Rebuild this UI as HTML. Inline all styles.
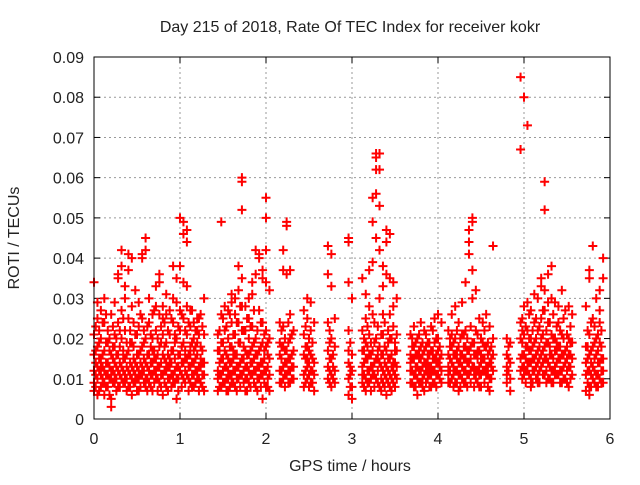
<!DOCTYPE html>
<html><head><meta charset="utf-8"><style>
body{margin:0;background:#fff;}
svg text{font-family:"Liberation Sans",sans-serif;font-size:16px;fill:#222;}
</style></head><body>
<svg id="chart" width="640" height="480">
<text x="350" y="32" text-anchor="middle">Day 215 of 2018, Rate Of TEC Index for receiver kokr</text>
<text x="350" y="471" text-anchor="middle">GPS time / hours</text>
<text transform="translate(19,238) rotate(-90)" text-anchor="middle">ROTI / TECUs</text>
<g id="grid"></g><g id="axes"></g><g id="pts"></g>
<rect x="94" y="57" width="516" height="362" fill="none" stroke="#000" stroke-width="1"/>
</svg>
<script>
const xTicks=[0,1,2,3,4,5,6];
const yTicks=[0,0.01,0.02,0.03,0.04,0.05,0.06,0.07,0.08,0.09];
const yTickLabels=["0","0.01","0.02","0.03","0.04","0.05","0.06","0.07","0.08","0.09"];
const colTimes=[0,0.04,0.08,0.12,0.16,0.20,0.24,0.28,0.32,0.36,0.40,0.44,0.48,0.52,0.56,0.60,0.64,0.68,0.72,0.76,0.80,0.84,0.88,0.92,0.96,1.00,1.04,1.08,1.12,1.16,1.20,1.24,1.28,
1.44,1.48,1.52,1.56,1.60,1.64,1.68,1.72,1.76,1.80,1.84,1.88,1.92,1.96,2.00,2.04,
2.16,2.20,2.24,2.28,2.32,2.44,2.48,2.52,2.56,2.72,2.76,2.80,2.96,3.00,
3.12,3.16,3.20,3.24,3.28,3.32,3.36,3.40,3.44,3.48,3.52,
3.68,3.72,3.76,3.80,3.84,3.88,3.92,3.96,4.00,4.04,
4.12,4.16,4.20,4.24,4.28,4.32,4.36,4.40,4.44,4.48,4.52,4.56,4.60,4.64,4.80,4.84,
4.96,5.00,5.04,5.08,5.12,5.16,5.20,5.24,5.28,5.32,5.36,5.40,5.44,5.48,5.52,5.56,
5.72,5.76,5.80,5.84,5.88,5.92];
const colRoti=[
[.034,.012,.009,.016,.021,.007],[.013,.010,.018,.025,.006,.029],[.011,.015,.008,.020,.027,.013],[.009,.012,.017,.024,.030,.006],
[.014,.011,.019,.008,.022],[.005,.003,.012,.016,.010,.026],[.011,.014,.009,.021,.018,.029],[.036,.035,.012,.008,.016,.024],
[.042,.038,.010,.013,.020,.027],[.033,.011,.015,.009,.022,.030],[.041,.037,.012,.017,.008,.025],[.040,.013,.010,.019,.028,.006],
[.032,.011,.014,.009,.021],[.012,.016,.010,.023,.029,.007],[.041,.040,.013,.018,.011,.025],[.042,.045,.010,.014,.020,.008],
[.030,.012,.016,.009,.024],[.026,.011,.014,.020,.017,.007],[.033,.028,.012,.015,.010,.022],[.034,.036,.013,.009,.018,.026],
[.028,.025,.011,.016,.006,.021],[.026,.031,.012,.014,.019,.008],[.027,.010,.015,.021,.013],[.038,.030,.011,.017,.024,.009],
[.035,.029,.013,.010,.020,.005],[.038,.050,.016,.012,.022,.027],[.034,.049,.046,.014,.010,.019,.025],[.044,.047,.033,.015,.011,.021,.028],
[.027,.018,.013,.009,.023,.016],[.024,.014,.011,.020,.017,.008],[.025,.012,.016,.022,.010,.019],[.026,.013,.018,.009,.015],[.030,.011,.021,.014,.007],
[.017,.012,.010,.021,.007],[.026,.015,.011,.019,.008,.049],[.022,.013,.017,.009,.028],[.027,.012,.015,.020,.010,.007],
[.031,.029,.014,.018,.011,.024,.009],[.030,.026,.016,.012,.021,.008],[.038,.032,.013,.019,.010,.024],[.060,.059,.052,.035,.015,.022,.011,.028],
[.028,.013,.017,.010,.022,.007],[.030,.012,.016,.020,.009,.025],[.034,.031,.014,.011,.018,.023],[.042,.036,.016,.012,.020,.008],
[.041,.040,.027,.013,.017,.010],[.035,.037,.014,.019,.011,.024,.005],[.055,.050,.042,.034,.012,.018,.008,.022],[.032,.015,.011,.020,.007],
[.024,.012,.016,.009,.019],[.042,.037,.013,.018,.010,.023],[.049,.048,.036,.011,.017,.014],[.037,.026,.012,.009,.020,.015],[.022,.013,.010,.017],
[.027,.011,.016,.008,.021],[.030,.025,.013,.010,.018,.015],[.029,.012,.016,.009,.022],[.024,.011,.014,.007],
[.043,.036,.013,.010,.017,.024],[.041,.033,.011,.015,.008,.020],[.025,.012,.009,.018],[.045,.044,.034,.014,.010,.017,.006,.022],[.030,.012,.008,.016,.005],
[.035,.013,.009,.017,.022,.011],[.031,.015,.010,.019,.025,.007],[.037,.028,.012,.016,.021,.009],[.055,.049,.039,.026,.013,.011,.017],
[.066,.065,.062,.056,.045,.020,.010,.015],[.066,.062,.053,.042,.030,.014,.008,.018],[.038,.033,.026,.012,.016,.009,.021],[.047,.044,.036,.013,.010,.017,.006],
[.046,.035,.026,.011,.008,.015,.020],[.034,.028,.012,.009,.014,.023],[.030,.021,.013,.017,.010],
[.021,.012,.016,.009,.014],[.023,.011,.015,.018,.008],[.020,.013,.010,.016,.006],[.024,.012,.015,.009,.018],[.022,.014,.011,.017,.007],
[.019,.012,.016,.010,.014],[.023,.013,.011,.017,.008],[.025,.015,.012,.019,.009],[.026,.014,.011,.017,.020],[.024,.016,.012,.009],
[.022,.013,.011,.016,.009],[.026,.014,.010,.018,.021],[.028,.012,.016,.009,.020],[.024,.014,.011,.018,.007],[.029,.013,.016,.010,.021],
[.034,.022,.012,.015,.009,.018],[.047,.044,.041,.017,.011,.014],[.050,.049,.037,.030,.013,.019],[.032,.016,.012,.010,.022],[.025,.013,.017,.011,.008],
[.024,.015,.012,.019],[.026,.013,.011,.018],[.023,.014,.010,.017,.007],[.043,.020,.012,.016],[.020,.016,.013,.009,.011],[.019,.014,.010,.007],
[.085,.067,.024,.015,.012,.020],[.080,.028,.016,.011,.021,.013],[.073,.029,.018,.012,.014,.022],[.027,.014,.010,.017,.020,.008],
[.031,.015,.012,.019,.024],[.030,.017,.011,.014,.022,.009],[.035,.033,.016,.013,.020,.025],[.059,.052,.032,.015,.011,.018,.027],
[.036,.029,.014,.019,.010,.024],[.038,.030,.016,.012,.021,.009],[.029,.017,.013,.020,.011],[.028,.015,.011,.018,.024],
[.032,.016,.012,.021,.009],[.027,.014,.010,.017],[.028,.013,.016,.008,.020],[.026,.015,.011,.019],
[.028,.014,.011,.018,.007],[.037,.035,.016,.012,.021,.008,.006],[.043,.025,.013,.010,.018],[.030,.016,.011,.020,.008],[.032,.027,.014,.010,.019,.024],[.040,.035,.015,.012,.009]];
const colTimes2=[0.02,0.06,0.10,0.14,0.18,0.22,0.26,0.30,0.34,0.38,0.42,0.46,0.50,0.54,0.58,0.62,0.66,0.70,0.74,0.78,0.82,0.86,0.90,0.94,0.98,1.02,1.06,1.10,1.14,1.18,1.22,1.26,
1.46,1.50,1.54,1.58,1.62,1.66,1.70,1.74,1.78,1.82,1.86,1.90,1.94,1.98,2.02,
2.18,2.22,2.26,2.30,2.46,2.50,2.54,2.74,2.78,2.98,
3.14,3.18,3.22,3.26,3.30,3.34,3.38,3.42,3.46,3.50,
3.70,3.74,3.78,3.82,3.86,3.90,3.94,3.98,4.02,
4.14,4.18,4.22,4.26,4.30,4.34,4.38,4.42,4.46,4.50,4.54,4.58,4.62,4.82,
4.98,5.02,5.06,5.10,5.14,5.18,5.22,5.26,5.30,5.34,5.38,5.42,5.46,5.50,5.54,
5.74,5.78,5.82,5.86,5.90];
const colRoti2=[
[.008,.011,.014,.017,.023],[.007,.012,.015,.019,.022],[.009,.010,.013,.016,.024],[.008,.011,.014,.019,.026],
[.006,.010,.013,.017,.020],[.009,.012,.015,.018,.023],[.007,.010,.013,.016,.020],[.008,.011,.014,.018,.022],
[.009,.012,.015,.017,.025],[.007,.010,.013,.016,.019],[.008,.011,.014,.019,.022],[.009,.012,.015,.018,.024],
[.007,.010,.013,.016,.021],[.008,.011,.014,.017,.026],[.009,.012,.015,.019,.022],[.007,.010,.013,.016,.023],
[.008,.011,.014,.018,.021],[.009,.012,.015,.017,.027],[.007,.010,.013,.016,.020],[.008,.011,.014,.019,.023],
[.009,.012,.015,.018,.024],[.007,.010,.013,.016,.022],[.008,.011,.014,.017,.025],[.009,.012,.015,.019,.021],
[.007,.010,.013,.016,.023],[.008,.011,.014,.018,.026],[.009,.012,.015,.017,.022],[.007,.010,.013,.016,.024],
[.008,.011,.014,.019,.027],[.009,.012,.015,.018,.022],[.007,.010,.013,.021,.025],[.008,.011,.014,.017,.023],
[.008,.011,.014,.017,.022],[.009,.012,.015,.019,.025],[.007,.010,.013,.016,.023],[.008,.011,.014,.018,.026],
[.009,.012,.015,.017,.021],[.007,.010,.013,.016,.024],[.008,.011,.014,.019,.028],[.009,.012,.015,.018,.022],
[.007,.010,.013,.016,.025],[.008,.011,.014,.017,.023],[.009,.012,.015,.019,.027],[.007,.010,.013,.016,.022],
[.008,.011,.014,.018,.024],[.009,.012,.015,.017,.021],[.008,.010,.013,.016,.019],
[.009,.012,.015,.018,.022],[.008,.011,.014,.017,.020],[.009,.012,.015,.019,.024],[.010,.013,.016,.021],
[.009,.012,.015,.018,.023],[.008,.011,.014,.017,.020],[.009,.012,.015,.019],[.009,.012,.015,.019,.022],[.010,.013,.016],[.008,.011,.013,.019],
[.008,.011,.014,.017,.020],[.009,.012,.015,.018,.023],[.007,.010,.013,.016,.019],[.008,.011,.014,.019,.024],
[.009,.012,.015,.017,.023],[.007,.010,.013,.016,.021],[.008,.011,.014,.018,.024],[.009,.012,.015,.019,.022],
[.007,.010,.013,.016,.020],[.008,.011,.014,.017,.019],
[.009,.012,.015,.018,.020],[.008,.011,.013,.016,.019],[.009,.012,.015,.017,.021],[.008,.010,.013,.016,.019],
[.009,.012,.014,.018,.021],[.008,.011,.013,.016,.019],[.009,.012,.015,.017,.022],[.008,.011,.014,.016,.020],[.010,.013,.015,.018],
[.009,.012,.015,.018,.020],[.008,.011,.013,.016,.019],[.009,.012,.015,.017,.022],[.008,.011,.014,.016,.020],
[.009,.012,.015,.018,.021],[.008,.011,.014,.017,.020],[.009,.012,.015,.018,.023],[.008,.011,.013,.016,.019],
[.009,.012,.015,.017,.021],[.008,.011,.014,.016,.020],[.009,.012,.015,.018,.022],[.008,.011,.013,.016,.019],[.010,.013,.015,.018],
[.012,.015,.018],
[.010,.013,.016,.019,.022,.025],[.009,.012,.015,.018,.023],[.011,.014,.017,.020,.026],[.009,.012,.015,.018,.022],
[.010,.013,.016,.020,.025],[.009,.012,.015,.018,.023],[.011,.014,.017,.021,.027],[.009,.012,.015,.019,.022],
[.010,.013,.016,.018,.024],[.009,.012,.015,.020,.026],[.011,.014,.017,.019,.023],[.009,.012,.015,.018,.022],
[.010,.013,.016,.020,.025],[.009,.012,.015,.018,.021],[.010,.013,.016,.019,.023],
[.009,.012,.015,.018,.022],[.008,.011,.014,.017,.024],[.009,.012,.015,.019,.023],[.008,.011,.014,.017,.021],[.009,.012,.015,.018,.022]];
const L=94,R=610,T=57,B=419,XMAX=6,YMAX=0.09;
function xs(t){return L+(R-L)*t/XMAX;}
function ys(v){return B-(B-T)*v/YMAX;}
const NS="http://www.w3.org/2000/svg";
const grid=document.getElementById('grid'),axes=document.getElementById('axes'),pts=document.getElementById('pts');
function mk(tag,attrs,parent){const e=document.createElementNS(NS,tag);for(const k in attrs)e.setAttribute(k,attrs[k]);parent.appendChild(e);return e;}
xTicks.forEach(t=>{const x=xs(t);
 if(t>0&&t<XMAX){const g=mk('line',{x1:x,y1:T,x2:x,y2:B,stroke:'#999','stroke-dasharray':'2,3'},grid);
 
 }
 mk('line',{x1:x,y1:B,x2:x,y2:B-6,stroke:'#000'},axes);mk('line',{x1:x,y1:T,x2:x,y2:T+6,stroke:'#000'},axes);
 const lb=mk('text',{x:x,y:B+25,'text-anchor':'middle'},axes);lb.textContent=t;
 
 });
yTicks.forEach((v,i)=>{const y=ys(v);
 if(v>0&&v<YMAX){const g=mk('line',{x1:L,y1:y,x2:R,y2:y,stroke:'#999','stroke-dasharray':'2,3'},grid);
 
 }
 mk('line',{x1:L,y1:y,x2:L+6,y2:y,stroke:'#000'},axes);mk('line',{x1:R,y1:y,x2:R-6,y2:y,stroke:'#000'},axes);
 const lb=mk('text',{x:L-10,y:y+6,'text-anchor':'end'},axes);lb.textContent=yTickLabels[i];
 
 });
let d='';
function addCols(times,vals){times.forEach((t,i)=>{const x=xs(t);vals[i].forEach(v=>{const y=ys(v);d+=`M${x-4.5},${y}h9M${x},${y-4.5}v9`;});});}
addCols(colTimes,colRoti);
addCols(colTimes2,colRoti2);
const p=mk('path',{d:d,stroke:'#f00','stroke-width':2,fill:'none'},pts);


</script>
</body></html>
